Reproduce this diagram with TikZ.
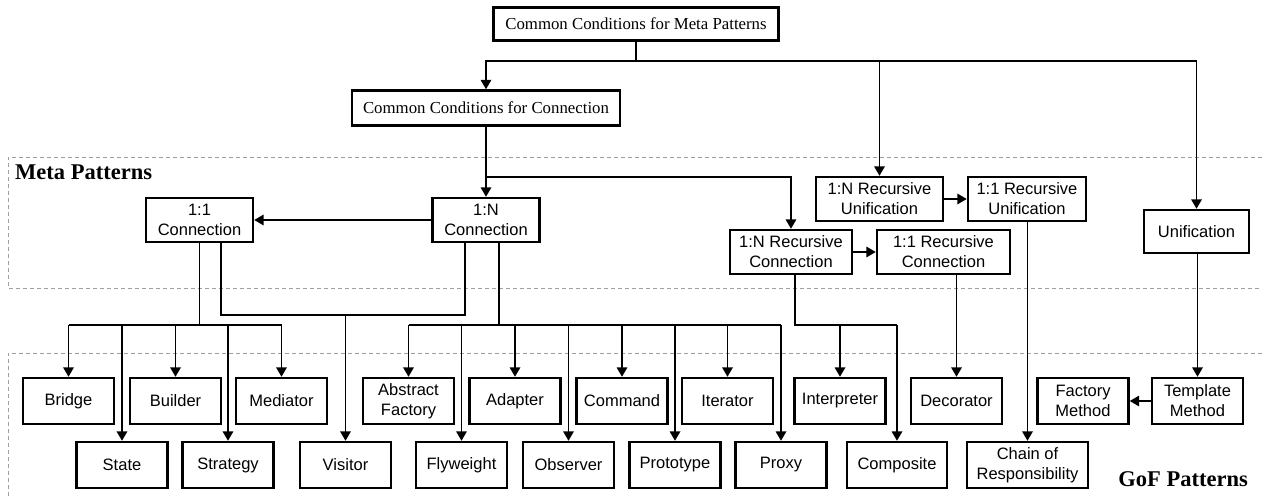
\documentclass[tikz,border=0pt]{standalone}
\usepackage{fontspec}
\setmainfont{Liberation Serif}
\newfontfamily\arialf{Liberation Sans}
\usetikzlibrary{arrows.meta}
\newcommand\sansboxfont{\arialf\fontsize{16.5}{20}\selectfont}
\newcommand\serifboxfont{\fontsize{16.8}{20}\selectfont}
\newcommand\regionfont{\bfseries\fontsize{22.5}{24}\selectfont}
\tikzset{
  box/.style={draw, fill=white, line width=2.4pt, inner sep=0pt, align=center, font=\sansboxfont},
  serifbox/.style={box, font=\serifboxfont},
  gof/.style={box, minimum width=91pt, minimum height=46pt},
  conn/.style={line width=1.8pt},
  arr/.style={conn, -{Triangle[length=9.5pt,width=10.5pt]}},
  region/.style={draw=gray!75, line width=1pt, dash pattern=on 4pt off 3pt},
}
\begin{document}
\begin{tikzpicture}[x=1pt,y=-1pt]
\useasboundingbox (0,0) rectangle (1262,498);

% dashed regions
\draw[region] (1262,157) -- (8,157) -- (8,288) -- (1262,288);
\draw[region] (1262,353) -- (8,353) -- (8,498);
\node[font=\regionfont, anchor=base west, inner sep=0pt] (metalbl) at (15,179) {Meta Patterns};
\node[font=\regionfont, anchor=base east, inner sep=0pt] (goflbl) at (1248,486) {GoF Patterns};

% conditions
\node[serifbox, minimum width=285pt, minimum height=33pt] (top) at (636,24) {Common Conditions for Meta Patterns};
\node[serifbox, minimum width=268pt, minimum height=35pt] (ccc) at (486,108) {Common Conditions for Connection};

% meta patterns
\node[box, minimum width=107pt, minimum height=44pt] (c11) at (199.5,220) {1:1\\Connection};
\node[box, minimum width=107pt, minimum height=44pt] (c1n) at (486,220) {1:N\\Connection};
\node[box, minimum width=127pt, minimum height=44pt] (ru1n) at (879.5,199) {1:N Recursive\\Unification};
\node[box, minimum width=118pt, minimum height=44pt] (ru11) at (1027,199) {1:1 Recursive\\Unification};
\node[box, minimum width=122pt, minimum height=44pt] (rc1n) at (791,252) {1:N Recursive\\Connection};
\node[box, minimum width=133pt, minimum height=44pt] (rc11) at (943.5,252) {1:1 Recursive\\Connection};
\node[box, minimum width=105pt, minimum height=43pt] (uni) at (1196.5,231.5) {Unification};

% GoF patterns, upper row
\node[gof] (Bridge) at (68.5,401) {Bridge};
\node[gof] (Builder) at (175.5,401) {Builder};
\node[gof] (Mediator) at (281.5,401) {Mediator};
\node[gof] (AF) at (408.5,401) {Abstract\\Factory};
\node[gof] (Adapter) at (515,401) {Adapter};
\node[gof] (Command) at (622,401) {Command};
\node[gof] (Iterator) at (727.5,401) {Iterator};
\node[gof] (Interpreter) at (840,401) {Interpreter};
\node[gof] (Decorator) at (956.5,401) {Decorator};
\node[gof] (FM) at (1083,401) {Factory\\Method};
\node[gof] (TM) at (1197.5,401) {Template\\Method};
% GoF patterns, lower row
\node[gof] (State) at (122,465) {State};
\node[gof] (Strategy) at (228,465) {Strategy};
\node[gof] (Visitor) at (345.5,465) {Visitor};
\node[gof] (Flyweight) at (461.5,465) {Flyweight};
\node[gof] (Observer) at (568.5,465) {Observer};
\node[gof] (Prototype) at (675,465) {Prototype};
\node[gof] (Proxy) at (781,465) {Proxy};
\node[gof, minimum width=100pt] (Composite) at (897,465) {Composite};
\node[gof, minimum width=121pt] (Chain) at (1027.5,465) {Chain of\\Responsibility};

% junction points
\coordinate (hub) at (636,61);
\coordinate (br) at (486,177);
\coordinate (b11) at (199.5,325);
\coordinate (v1) at (221,315);
\coordinate (v2) at (465,315);
\coordinate (v3) at (345.5,315);
\coordinate (b1n) at (499,325);
\coordinate (brc) at (795,325);

% from the common conditions
\draw[conn] (top.south) -- (hub);
\draw[arr] (hub) -| (ccc.north);
\draw[arr] (hub) -| (ru1n.north);
\draw[arr] (hub) -| (uni.north);
\draw[arr] (ccc.south) -- (c1n.north);
\draw[arr] (br) -| (rc1n.north);

% between meta patterns
\draw[arr] (c1n.west) -- (c11.east);
\draw[arr] (ru1n.east) -- (ru11.west);
\draw[arr] (rc1n.east) -- (rc11.west);

% 1:1 connection fan-out
\draw[conn] (c11.south) -- (b11);
\draw[conn] (Bridge.north |- b11) -- (Mediator.north |- b11);
\foreach \n in {Bridge,State,Builder,Strategy,Mediator}
  \draw[arr] (\n.north |- b11) -- (\n.north);

% joint 1:1 / 1:N branch
\draw[conn] (v1 |- c11.south) -- (v1) -- (v2) -- (v2 |- c1n.south);
\draw[arr] (v3) -- (Visitor.north);

% 1:N connection fan-out
\draw[conn] (b1n |- c1n.south) -- (b1n);
\draw[conn] (AF.north |- b1n) -- (Proxy.north |- b1n);
\foreach \n in {AF,Flyweight,Adapter,Observer,Command,Prototype,Iterator,Proxy}
  \draw[arr] (\n.north |- b1n) -- (\n.north);

% recursive connections and unifications
\draw[conn] (brc |- rc1n.south) -- (brc) -- (Composite.north |- brc);
\foreach \n in {Interpreter,Composite}
  \draw[arr] (\n.north |- brc) -- (\n.north);
\draw[arr] (Decorator.north |- rc11.south) -- (Decorator.north);
\draw[arr] (Chain.north |- ru11.south) -- (Chain.north);
\draw[arr] (TM.north |- uni.south) -- (TM.north);
\draw[arr] (TM.west) -- (FM.east);
\end{tikzpicture}
\end{document}
